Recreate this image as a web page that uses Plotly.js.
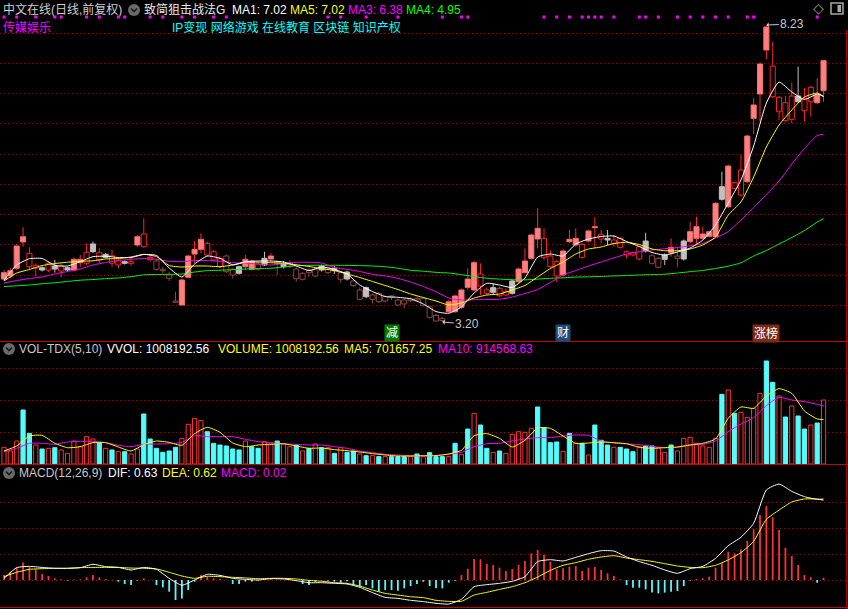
<!DOCTYPE html>
<html><head><meta charset="utf-8">
<script src="https://cdn.plot.ly/plotly-3.0.1.min.js"></script>
<style>html,body{margin:0;padding:0;background:#000;overflow:hidden}
#wrap{position:relative;width:848px;height:609px}
#chart{width:848px;height:609px}
#dots{position:absolute;left:0;top:0;width:848px;height:609px;pointer-events:none}</style>
</head><body><div id="wrap"><div id="chart"></div><div id="dots"></div></div>
<script>
// ---------------- DATA ----------------
const stockName = '中文在线';
const period = '日线,前复权';
const indicatorName = '致简狙击战法G';
const industry = '传媒娱乐';
const concepts = ['IP变现', '网络游戏', '在线教育', '区块链', '知识产权'];

const open = [3.929,3.980,4.110,4.645,4.364,4.115,4.120,4.081,4.149,4.064,
4.081,4.081,4.205,4.195,4.391,4.374,4.296,4.323,4.166,4.222,
4.195,4.505,4.691,4.296,4.234,4.093,3.997,3.556,3.489,3.958,
4.352,4.432,4.533,4.391,4.279,4.318,4.093,4.137,4.137,4.234,
4.183,4.166,4.268,4.222,4.137,4.166,4.098,3.924,4.081,3.980,
4.149,4.036,4.110,3.924,4.047,3.895,3.585,3.782,3.585,3.687,
3.556,3.641,3.573,3.573,3.561,3.602,3.483,3.460,3.311,3.260,
3.375,3.641,3.450,3.929,3.743,4.014,3.743,3.704,3.771,3.658,
3.687,3.883,4.036,4.279,4.787,4.618,4.318,4.222,3.997,4.601,
4.505,4.517,4.572,4.815,4.686,4.618,4.533,4.618,4.391,4.374,
4.268,4.572,4.323,4.127,4.262,4.466,4.279,4.268,4.561,4.618,
4.618,4.652,4.645,5.492,5.153,5.560,5.351,5.577,6.650,7.062,
8.196,7.536,6.762,6.914,6.633,7.028,6.989,6.931,7.045,7.118];
const high = [4.081,4.115,4.522,4.804,4.466,4.195,4.141,4.225,4.251,4.183,
4.141,4.293,4.335,4.533,4.561,4.449,4.369,4.420,4.296,4.242,
4.307,4.674,4.957,4.335,4.259,4.137,4.053,3.714,3.937,4.344,
4.572,4.703,4.564,4.420,4.310,4.344,4.115,4.157,4.335,4.259,
4.208,4.391,4.364,4.242,4.234,4.251,4.124,4.047,4.110,4.115,
4.174,4.141,4.149,4.056,4.073,3.920,3.788,3.802,3.683,3.709,
3.649,3.658,3.599,3.599,3.616,3.633,3.624,3.480,3.336,3.285,
3.573,3.666,3.768,4.110,4.234,4.195,3.788,3.856,3.793,3.771,
3.920,4.124,4.449,4.699,5.126,4.787,4.420,4.251,4.429,4.759,
4.787,4.539,4.767,4.974,4.759,4.759,4.674,4.640,4.412,4.395,
4.496,4.713,4.344,4.301,4.364,4.618,4.476,4.598,4.899,4.984,
4.815,4.750,5.233,5.746,5.868,5.580,6.029,6.376,6.994,7.595,
8.230,7.947,7.028,7.028,7.253,7.524,7.163,7.197,7.328,7.646];
const low = [3.895,3.946,4.081,4.476,4.081,3.980,4.056,4.047,4.036,3.958,
4.056,4.056,4.137,4.166,4.369,4.195,4.276,4.137,4.110,4.174,
4.149,4.471,4.459,4.222,4.073,4.025,3.895,3.531,3.480,3.937,
4.195,4.364,4.310,4.225,4.115,4.030,3.941,4.005,4.081,4.073,
4.073,4.149,4.222,3.997,4.110,4.110,3.883,3.903,3.968,3.958,
4.056,4.014,4.014,3.866,3.903,3.793,3.565,3.607,3.517,3.522,
3.531,3.573,3.463,3.438,3.539,3.548,3.463,3.260,3.209,3.200,
3.353,3.353,3.421,3.743,3.717,3.658,3.658,3.658,3.624,3.633,
3.666,3.861,4.025,4.259,4.449,4.251,4.115,3.883,3.971,4.533,
4.479,4.276,4.547,4.449,4.533,4.505,4.476,4.445,4.279,4.310,
4.242,4.378,4.174,4.107,4.166,4.307,4.127,4.242,4.533,4.505,
4.598,4.632,4.623,5.258,5.131,5.445,5.326,5.555,6.384,6.593,
7.649,6.994,6.621,6.588,6.566,6.909,6.593,6.677,6.892,6.931];
const close = [4.036,4.069,4.488,4.556,4.137,4.161,4.081,4.195,4.098,4.149,
4.120,4.262,4.262,4.381,4.522,4.251,4.347,4.195,4.251,4.195,
4.222,4.645,4.476,4.262,4.093,4.069,3.941,3.534,3.912,4.318,
4.432,4.601,4.335,4.251,4.137,4.053,3.997,4.025,4.262,4.093,
4.093,4.279,4.318,4.195,4.183,4.205,3.934,4.025,4.036,4.093,
4.081,4.120,4.069,4.036,3.929,3.815,3.743,3.629,3.658,3.544,
3.629,3.619,3.489,3.506,3.590,3.573,3.602,3.280,3.218,3.226,
3.544,3.375,3.743,3.788,4.205,3.810,3.687,3.782,3.646,3.714,
3.895,4.098,4.234,4.674,4.606,4.296,4.137,3.980,4.403,4.561,
4.618,4.296,4.742,4.798,4.606,4.589,4.589,4.466,4.335,4.335,
4.476,4.403,4.195,4.279,4.335,4.374,4.318,4.572,4.730,4.815,
4.691,4.730,5.211,5.279,5.842,5.465,5.775,6.351,6.876,7.570,
7.807,7.016,7.006,6.610,7.028,6.931,6.779,7.175,6.914,7.626];
const volume = [263000,205000,362000,851000,483000,299000,236000,247000,257000,221000,
168000,362000,273000,431000,394000,336000,247000,221000,194000,194000,
158000,236000,788000,394000,247000,184000,205000,263000,404000,625000,
719000,683000,509000,326000,299000,284000,236000,221000,362000,273000,
247000,352000,315000,362000,315000,273000,299000,205000,247000,315000,
257000,257000,168000,257000,184000,205000,158000,131000,131000,116000,
116000,116000,116000,116000,116000,158000,116000,179000,116000,116000,
116000,326000,152000,551000,798000,614000,247000,184000,205000,168000,
467000,509000,499000,562000,898000,572000,336000,347000,200000,483000,
326000,326000,142000,614000,373000,299000,263000,263000,236000,194000,
273000,284000,284000,257000,184000,299000,205000,404000,420000,326000,
284000,263000,404000,1097000,1166000,798000,814000,735000,877000,1113000,
1623000,1286000,1071000,740000,914000,756000,551000,614000,646000,1008192.56];
// indicator state of each candle: P strong (filled), R rising (hollow), G weak (filled), B falling (hollow)
const candleState = ('PPPPRRGRGR' + 'GPPRGRGRRG' + 'RPRRBBBBPP' + 'PPRRRBBGPP' + 'BGPBGBBBBB' +
  'GBGBGBBGBB' + 'BBBBBBBBBB' + 'PPPPPRRGRR' + 'GPPPPRRRPP' + 'PRPPRGRRRR' +
  'RGBBGPBGPP' + 'PPPGPRRPPP' + 'PRRRRGRRPP').split('');
const macdHist = [0.039,0.065,0.096,0.137,0.104,0.083,0.047,0.031,0.013,0.005,
-0.005,0.003,0.005,0.021,0.039,0.021,0.008,0.002,-0.013,-0.031,
-0.039,-0.005,0.013,0.002,-0.039,-0.057,-0.091,-0.156,-0.143,-0.078,
-0.013,0.039,0.026,0.013,0.008,0.002,-0.031,-0.031,-0.013,-0.013,
-0.005,0.001,0.005,0.001,0.002,0.001,-0.005,-0.031,-0.039,-0.013,
-0.003,-0.005,-0.013,-0.021,-0.010,-0.039,-0.052,-0.039,-0.065,-0.091,
-0.078,-0.078,-0.083,-0.065,-0.047,-0.031,-0.013,-0.047,-0.065,-0.065,
-0.021,-0.005,0.039,0.086,0.163,0.161,0.124,0.117,0.096,0.070,
0.086,0.117,0.148,0.207,0.233,0.194,0.143,0.083,0.091,0.104,
0.109,0.070,0.096,0.101,0.078,0.052,0.031,0.005,-0.039,-0.060,
-0.060,-0.073,-0.098,-0.104,-0.098,-0.091,-0.086,-0.047,-0.005,0.008,
0.013,0.026,0.096,0.130,0.220,0.207,0.238,0.303,0.394,0.505,
0.575,0.487,0.389,0.251,0.187,0.117,0.039,0.021,-0.021,0.018];

// indicator lines, read at these day indices
const lineDays = [0,2,4,6,8,10,12,14,16,18,20,22,24,26,28,30,32,34,36,38,40,42,44,46,48,50,52,54,56,58,60,62,64,66,68,70,72,74,76,78,80,82,84,86,88,90,92,94,96,98,100,102,104,106,108,110,112,114,116,118,120,122,124,126,128,129];
const ma1 = [3.912,4.166,4.273,4.276,4.161,4.149,4.222,4.307,4.315,4.293,4.293,4.344,4.327,4.115,3.963,4.183,4.318,4.279,4.169,4.222,4.234,4.234,4.217,4.149,4.073,4.132,4.090,4.014,3.827,3.717,3.633,3.619,3.594,3.506,3.378,3.348,3.455,3.692,3.856,3.827,3.785,3.946,4.301,4.352,4.318,4.522,4.606,4.649,4.657,4.564,4.479,4.378,4.335,4.386,4.454,4.589,4.843,5.216,5.605,6.181,6.909,7.265,7.096,6.969,7.062,7.02];
const ma5 = [3.895,4.030,4.090,4.157,4.191,4.213,4.229,4.237,4.268,4.276,4.301,4.347,4.307,4.157,4.132,4.149,4.149,4.137,4.166,4.213,4.215,4.205,4.196,4.171,4.141,4.103,4.073,4.014,3.954,3.887,3.819,3.751,3.675,3.616,3.556,3.489,3.522,3.607,3.658,3.675,3.743,3.819,3.963,4.107,4.217,4.352,4.437,4.471,4.530,4.550,4.513,4.437,4.408,4.408,4.437,4.505,4.640,5.013,5.233,5.656,6.164,6.537,6.791,7.011,7.079,7.02];
const ma3 = [3.861,3.903,3.937,3.963,4.014,4.056,4.098,4.166,4.208,4.242,4.262,4.276,4.262,4.229,4.222,4.242,4.242,4.229,4.205,4.196,4.183,4.166,4.191,4.213,4.212,4.200,4.124,4.093,4.056,4.008,3.980,3.941,3.878,3.802,3.714,3.607,3.573,3.578,3.582,3.585,3.624,3.683,3.751,3.870,3.997,4.073,4.149,4.217,4.285,4.352,4.391,4.420,4.442,4.462,4.491,4.530,4.623,4.733,4.928,5.140,5.360,5.588,5.876,6.139,6.359,6.38];
const ma4 = [3.802,3.814,3.827,3.848,3.865,3.887,3.909,3.920,3.936,3.947,3.968,4.000,4.005,4.008,4.014,4.047,4.071,4.078,4.086,4.098,4.105,4.110,4.132,4.154,4.161,4.161,4.161,4.159,4.156,4.149,4.137,4.112,4.076,4.061,4.042,4.030,4.003,3.970,3.941,3.927,3.917,3.915,3.927,3.941,3.949,3.961,3.966,3.973,3.981,3.988,3.997,4.003,4.010,4.030,4.053,4.074,4.107,4.146,4.203,4.318,4.412,4.522,4.632,4.750,4.894,4.95];
const volMa5 = [205000,284000,441000,452000,326000,257000,273000,336000,336000,268000,205000,305000,362000,341000,294000,478000,578000,499000,331000,273000,299000,310000,320000,284000,247000,252000,226000,210000,189000,163000,142000,126000,126000,131000,131000,158000,215000,446000,478000,404000,268000,373000,567000,562000,441000,326000,331000,347000,336000,320000,263000,247000,257000,268000,299000,326000,394000,719000,898000,877000,1071000,1187000,1113000,835000,709000,701657.25];
const volMa10 = [194000,247000,326000,326000,310000,347000,357000,357000,336000,294000,273000,310000,315000,320000,341000,446000,431000,431000,431000,389000,352000,336000,315000,310000,299000,299000,273000,247000,205000,179000,152000,142000,131000,126000,137000,152000,184000,273000,320000,326000,362000,394000,415000,415000,441000,457000,452000,362000,331000,315000,305000,278000,257000,263000,299000,310000,362000,509000,630000,730000,919000,1050000,1008000,982000,940000,914568.63];
const dif = [0.013,0.096,0.106,0.098,0.091,0.091,0.096,0.122,0.104,0.098,0.078,0.098,0.083,0.013,-0.041,0.000,0.044,0.036,0.013,0.005,0.000,0.010,0.008,-0.005,-0.021,-0.021,-0.026,-0.031,-0.057,-0.098,-0.135,-0.143,-0.158,-0.168,-0.181,-0.187,-0.150,-0.052,-0.036,-0.026,-0.010,0.026,0.143,0.158,0.148,0.176,0.205,0.228,0.225,0.179,0.143,0.114,0.078,0.052,0.088,0.106,0.168,0.267,0.332,0.441,0.700,0.746,0.689,0.648,0.627,0.63];
const dea = [0.026,0.060,0.083,0.088,0.091,0.091,0.096,0.098,0.098,0.098,0.093,0.091,0.086,0.060,0.031,0.013,0.029,0.026,0.021,0.016,0.010,0.013,0.013,0.008,-0.003,-0.010,-0.021,-0.026,-0.047,-0.078,-0.104,-0.117,-0.130,-0.137,-0.158,-0.166,-0.166,-0.117,-0.096,-0.073,-0.052,-0.021,0.023,0.075,0.114,0.135,0.161,0.179,0.189,0.171,0.158,0.145,0.127,0.109,0.098,0.096,0.114,0.156,0.213,0.301,0.472,0.544,0.607,0.630,0.630,0.62];

const signalDays = [0,2,5,8,9,13,15,18,19,23,25,28,30,33,35,51,53,57,62,69,72,73,85,87,89,91,92,93,94,96,100,101,103,106,108,110,112,114,117,118,128];
const eventDays = [61, 88, 120];
const eventText = ['减', '财', '涨榜'];
const highMark = {day: 120, value: 8.23};
const lowMark = {day: 69, value: 3.20};

// ---------------- RENDER ----------------
const W = 848, H = 609;
const FONT = 'Liberation Sans, "Noto Sans CJK SC", sans-serif';
const fy = py => 1 - py / H;        // pixel row -> paper fraction
const fx = px => px / W;
const N = close.length;
const X_RANGE = [-0.6296, 132.85];
const MAIN_DOMAIN = [fy(341), 1], MAIN_RANGE = [2.879, 8.654];

const STYLE = {
  P: {fill: '#ff8080', line: '#ff7070', wick: '#ff2a2a'},
  R: {fill: '#000000', line: '#ff2020', wick: '#ff2020'},
  G: {fill: '#c0c0c0', line: '#c0c0c0', wick: '#c0c0c0'},
  B: {fill: '#000000', line: '#8c4646', wick: '#8c4646'}
};

const traces = [];
Object.keys(STYLE).forEach(k => {
  const xs = [], base = [], hgt = [], wx = [], wy = [];
  for (let i = 0; i < N; i++) {
    if (candleState[i] !== k) continue;
    const top = Math.max(open[i], close[i]), bot = Math.min(open[i], close[i]);
    xs.push(i); base.push(bot); hgt.push(Math.max(top - bot, 0.012));
    if (high[i] > top) { wx.push(i, i, null); wy.push(top, high[i], null); }
    if (low[i] < bot) { wx.push(i, i, null); wy.push(bot, low[i], null); }
  }
  traces.push({type: 'scatter', mode: 'lines', x: wx, y: wy, xaxis: 'x', yaxis: 'y',
    line: {color: STYLE[k].wick, width: 1}, hoverinfo: 'skip'});
  traces.push({type: 'bar', x: xs, y: hgt, base: base, width: 0.8, xaxis: 'x', yaxis: 'y',
    marker: {color: STYLE[k].fill, line: {color: STYLE[k].line, width: 1}}});
});

const lineTrace = (y, color, axis) => ({type: 'scatter', mode: 'lines', x: lineDays, y: y,
  xaxis: 'x', yaxis: axis, line: {color: color, width: 1, shape: 'spline', smoothing: 0.5}, hoverinfo: 'skip'});

traces.push(lineTrace(ma4, '#00ff00', 'y'));
traces.push(lineTrace(ma3, '#ff00ff', 'y'));
traces.push(lineTrace(ma5, '#ffff00', 'y'));
traces.push(lineTrace(ma1, '#ffffff', 'y'));

// volume
const vUpX = [], vUp = [], vDnX = [], vDn = [];
for (let i = 0; i < N; i++) {
  if (close[i] >= open[i]) { vUpX.push(i); vUp.push(volume[i]); }
  else { vDnX.push(i); vDn.push(volume[i]); }
}
traces.push({type: 'bar', x: vUpX, y: vUp, width: 0.66, xaxis: 'x', yaxis: 'y2',
  marker: {color: '#000000', line: {color: '#ff3232', width: 1}}});
traces.push({type: 'bar', x: vDnX, y: vDn, width: 0.66, xaxis: 'x', yaxis: 'y2',
  marker: {color: '#54fcfc', line: {color: '#54fcfc', width: 1}}});
traces.push(lineTrace(volMa10, '#ff00ff', 'y2'));
traces.push(lineTrace(volMa5, '#ffff00', 'y2'));

// MACD
const hPosX = [], hPos = [], hNegX = [], hNeg = [];
macdHist.forEach((v, i) => { if (v >= 0) { hPosX.push(i); hPos.push(v); } else { hNegX.push(i); hNeg.push(v); } });
traces.push({type: 'bar', x: hPosX, y: hPos, width: 0.28, xaxis: 'x', yaxis: 'y3', marker: {color: '#ff3232', line: {width: 0}}});
traces.push({type: 'bar', x: hNegX, y: hNeg, width: 0.28, xaxis: 'x', yaxis: 'y3', marker: {color: '#54fcfc', line: {width: 0}}});
traces.push(lineTrace(dea, '#ffff00', 'y3'));
traces.push(lineTrace(dif, '#ffffff', 'y3'));

// ---------------- LAYOUT ----------------
const GRID = {gridcolor: '#a00000', griddash: '1px,3px', gridwidth: 1, showticklabels: false,
  ticks: '', zeroline: false, showline: false, fixedrange: true, tickmode: 'array'};
const mainGrid = [];
for (let k = 0; k < 10; k++) mainGrid.push(3.484 + 0.5118 * k);

const txt = (text, px, py, color, extra) => Object.assign({text: text, xref: 'paper', yref: 'paper',
  x: fx(px), y: fy(py), xanchor: 'left', yanchor: 'middle', showarrow: false,
  font: {family: FONT, size: 12, color: color}}, extra || {});
const f2 = v => v.toFixed(2);
const last = a => a[a.length - 1];

const annotations = [
  txt(stockName + '(' + period + ')', 1, 10, '#cfcfcf'),
  txt(indicatorName, 142, 10, '#e8e8e8'),
  txt('MA1: ' + f2(last(ma1)), 230, 10, '#ffffff'),
  txt('MA5: ' + f2(last(ma5)), 288, 10, '#ffff00'),
  txt('MA3: ' + f2(last(ma3)), 346, 10, '#ff00ff'),
  txt('MA4: ' + f2(last(ma4)), 404, 10, '#00ff00'),
  txt(industry, 1, 27, '#ff00ff'),
  txt(concepts.join(' '), 170, 27, '#00ffff'),
  txt('VOL-TDX(5,10)', 17, 349, '#c8c8c8'),
  txt('VVOL: ' + f2(last(volume)), 105, 349, '#ffffff'),
  txt('VOLUME: ' + f2(last(volume)), 216, 349, '#ffff00'),
  txt('MA5: ' + f2(last(volMa5)), 342, 349, '#ffff00'),
  txt('MA10: ' + f2(last(volMa10)), 436, 349, '#ff00ff'),
  txt('MACD(12,26,9)', 17, 473, '#c8c8c8'),
  txt('DIF: ' + f2(last(dif)), 106, 473, '#ffffff'),
  txt('DEA: ' + f2(last(dea)), 160, 473, '#ffff00'),
  txt('MACD: ' + f2(last(macdHist)), 219, 473, '#ff00ff'),
  txt('◇', 811, 8, '#9a9a9a', {font: {family: 'DejaVu Sans', size: 14, color: '#9a9a9a'}}),
  {x: highMark.day, y: highMark.value, xref: 'x', yref: 'y', text: f2(highMark.value),
   showarrow: true, ax: 26, ay: -1, arrowcolor: '#c8c8c8', arrowhead: 1, arrowsize: 0.8, arrowwidth: 1,
   standoff: 0, font: {family: FONT, size: 12, color: '#c8c8c8'}},
  {x: lowMark.day, y: lowMark.value, xref: 'x', yref: 'y', text: f2(lowMark.value),
   showarrow: true, ax: 25, ay: 2, arrowcolor: '#c8c8c8', arrowhead: 1, arrowsize: 0.8, arrowwidth: 1,
   standoff: 0, font: {family: FONT, size: 12, color: '#c8c8c8'}}
];
const eventBg = {'减': '#007a00', '财': '#1c4a7c', '涨榜': '#7c2a16'};
eventDays.forEach((d, k) => annotations.push({x: d, y: fy(333), xref: 'x', yref: 'paper',
  text: eventText[k], showarrow: false, bgcolor: eventBg[eventText[k]], borderpad: 1,
  font: {family: FONT, size: 12, color: '#ffffff'}}));

const hline = (py, color) => ({type: 'line', xref: 'paper', yref: 'paper', x0: 0, x1: 1,
  y0: fy(py), y1: fy(py), line: {color: color, width: 1}});
const icon = (cx, cy) => [
  {type: 'circle', xref: 'paper', yref: 'paper', x0: fx(cx - 6), x1: fx(cx + 6), y0: fy(cy + 6), y1: fy(cy - 6),
   fillcolor: '#6a6a6a', line: {width: 0}},
  {type: 'path', xref: 'paper', yref: 'paper',
   path: `M${fx(cx - 3)},${fy(cy - 1.5)} L${fx(cx)},${fy(cy + 1.5)} L${fx(cx + 3)},${fy(cy - 1.5)}`,
   line: {color: '#1a1a1a', width: 1.6}}
];
const shapes = [
  hline(341.5, '#c80000'), hline(464.5, '#c80000'), hline(607.5, '#c80000'),
  {type: 'line', xref: 'paper', yref: 'paper', x0: fx(846.5), x1: fx(846.5), y0: fy(30), y1: 0,
   line: {color: '#a00000', width: 1}},
  ...icon(134, 10), ...icon(9, 349), ...icon(9, 473),
  {type: 'rect', xref: 'paper', yref: 'paper', x0: fx(831), x1: fx(843), y0: fy(14), y1: fy(3),
   line: {color: '#a8a8a8', width: 1.5}, fillcolor: 'rgba(0,0,0,0)'},
  {type: 'rect', xref: 'paper', yref: 'paper', x0: fx(837.5), x1: fx(841), y0: fy(12), y1: fy(5),
   line: {width: 0}, fillcolor: '#a8a8a8'}
];

const layout = {
  width: W, height: H, margin: {l: 0, r: 0, t: 0, b: 0},
  paper_bgcolor: '#000000', plot_bgcolor: '#000000', showlegend: false, barmode: 'overlay',
  xaxis: {range: X_RANGE, showgrid: false, zeroline: false, showticklabels: false,
    ticks: '', showline: false, fixedrange: true},
  yaxis: Object.assign({}, GRID, {domain: MAIN_DOMAIN, range: MAIN_RANGE, tickvals: mainGrid}),
  yaxis2: Object.assign({}, GRID, {domain: [fy(464), fy(341)], range: [0, 1937600],
    tickvals: [500000, 1000000, 1500000]}),
  yaxis3: Object.assign({}, GRID, {domain: [0, fy(464)], range: [-0.2255, 0.902],
    tickvals: [0, 0.2, 0.4, 0.6]}),
  annotations: annotations, shapes: shapes
};

Plotly.newPlot('chart', traces, layout, {staticPlot: true, displayModeBar: false});

// signal dots along the top edge of the main panel: drawn on a transparent layer with the same scales
const dotPrice = (511 - 17) / 59.05;
Plotly.newPlot('dots', [{type: 'scatter', mode: 'markers', x: signalDays, y: signalDays.map(() => dotPrice),
  marker: {symbol: 'square', size: 3, color: '#ff00ff', line: {width: 0}}, hoverinfo: 'skip'}], {
  width: W, height: H, margin: {l: 0, r: 0, t: 0, b: 0},
  paper_bgcolor: 'rgba(0,0,0,0)', plot_bgcolor: 'rgba(0,0,0,0)', showlegend: false,
  xaxis: {range: X_RANGE, visible: false, fixedrange: true},
  yaxis: {domain: MAIN_DOMAIN, range: MAIN_RANGE, visible: false, fixedrange: true}
}, {staticPlot: true, displayModeBar: false});
</script>
</body></html>
